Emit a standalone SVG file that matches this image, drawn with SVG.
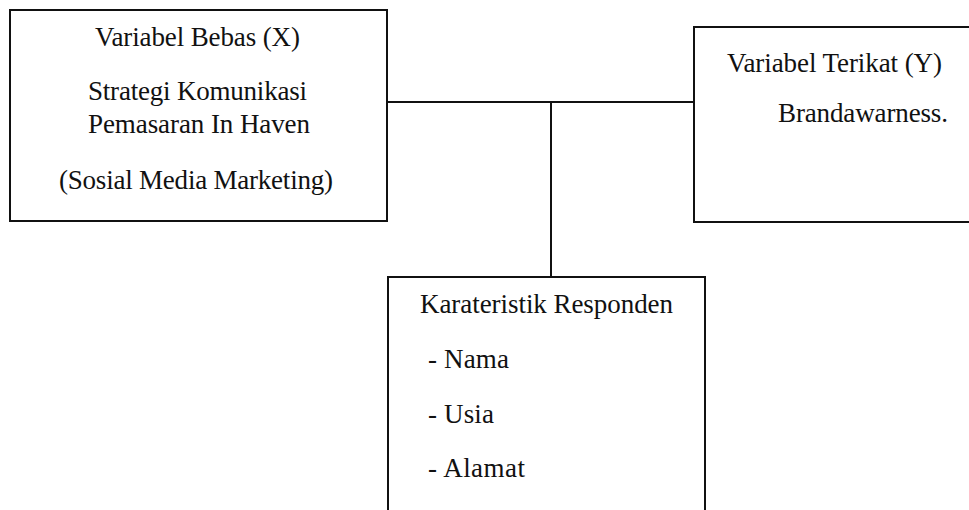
<svg xmlns="http://www.w3.org/2000/svg" width="969" height="510" viewBox="0 0 969 510">
<style>
.box{fill:#fff;stroke:#111;stroke-width:2}
.ln{stroke:#111;stroke-width:2;fill:none}
text{font-family:"Liberation Serif","Times New Roman",serif;font-size:27px;fill:#111}
</style>
<rect x="0" y="0" width="969" height="510" fill="#fff"/>
<g id="connectors">
<line class="ln" x1="387" y1="102" x2="694" y2="102"/>
<line class="ln" x1="551" y1="102" x2="551" y2="277"/>
</g>
<g id="node-x">
<rect class="box" x="10" y="10" width="377" height="211"/>
<text x="95" y="46" textLength="205">Variabel Bebas (X)</text>
<text x="88" y="100" textLength="219">Strategi Komunikasi</text>
<text x="88" y="133" textLength="222">Pemasaran In Haven</text>
<text x="59" y="189" textLength="274">(Sosial Media Marketing)</text>
</g>
<g id="node-y">
<rect class="box" x="694" y="27" width="290" height="195"/>
<text x="727" y="72" textLength="215">Variabel Terikat (Y)</text>
<text x="778" y="122" textLength="170">Brandawarness.</text>
</g>
<g id="node-responden">
<rect class="box" x="388" y="277" width="317" height="250"/>
<text x="420" y="313" textLength="253">Karateristik Responden</text>
<text x="428" y="368" textLength="81">- Nama</text>
<text x="428" y="423" textLength="66">- Usia</text>
<text x="428" y="477" textLength="97">- Alamat</text>
</g>
</svg>
